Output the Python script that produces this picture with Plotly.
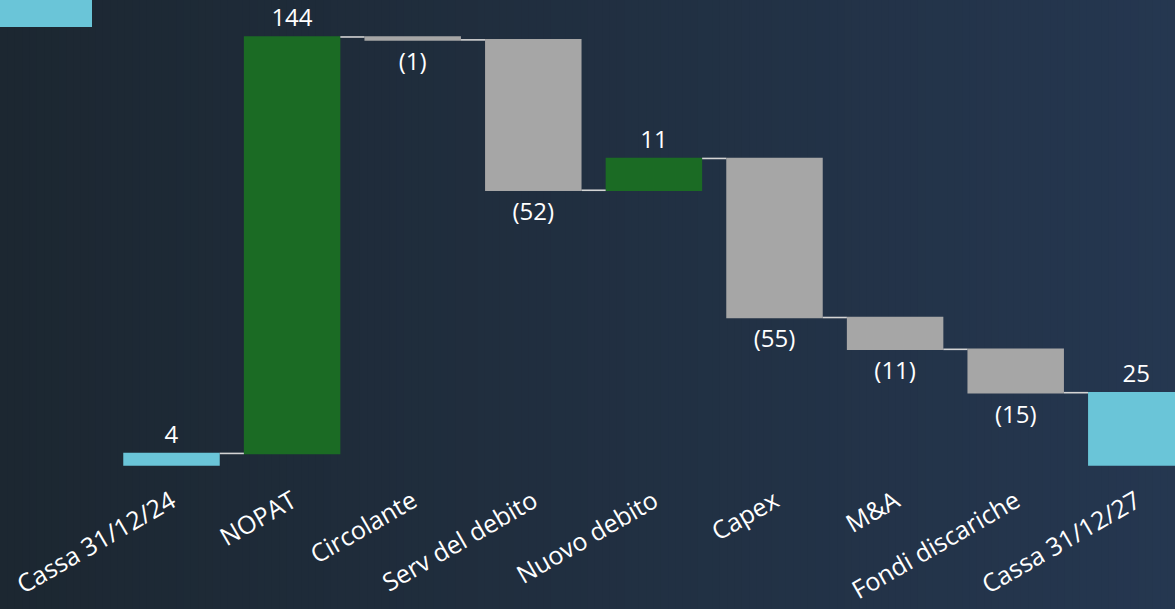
import plotly.graph_objects as go

categories = ["Cassa 31/12/24", "NOPAT", "Circolante", "Serv del debito",
              "Nuovo debito", "Capex", "M&A", "Fondi discariche", "Cassa 31/12/27"]
values = [4, 144, -1, -52, 11, -55, -11, -15, 25]
measures = ["absolute", "relative", "relative", "relative", "relative",
            "relative", "relative", "relative", "total"]

labels = [f"({abs(v)})" if v < 0 else str(v) for v in values]

W, H = 1175, 609
mb = 134
plot_h = H - mb
px_per_unit = 2.892
ymax = 465 / px_per_unit
ymin = ymax - plot_h / px_per_unit
step = 120.6
xmin = -171.5 / step
xmax = (W - 171.5) / step

fig = go.Figure()
fig.add_trace(go.Waterfall(
    x=categories, y=values, measure=measures,
    text=labels, textposition="outside", constraintext="none", cliponaxis=False,
    textfont=dict(color="white", size=24, family="Open Sans"),
    increasing=dict(marker=dict(color="#1b6b24")),
    decreasing=dict(marker=dict(color="#a6a6a6")),
    totals=dict(marker=dict(color="#6ac5d8")),
    connector=dict(mode="between", line=dict(color="#d4d4d4", width=1.6)),
    showlegend=False,
))

# horizontal gradient background
c0 = (28, 39, 49)
c1 = (37, 55, 80)
n = 160
shapes = []
for i in range(n):
    t = i / (n - 1)
    col = tuple(round(a + (b - a) * t) for a, b in zip(c0, c1))
    shapes.append(dict(type="rect", xref="paper", yref="paper", layer="below",
                       x0=i / n, x1=(i + 1) / n + 0.001, y0=-1, y1=1.01,
                       line=dict(width=0), fillcolor="rgb(%d,%d,%d)" % col))
shapes.append(dict(type="rect", xref="paper", yref="paper", layer="above",
                   x0=0, x1=92 / W, y0=1 - 27 / plot_h, y1=1,
                   line=dict(width=0), fillcolor="#6ac5d8"))

fig.update_layout(
    width=W, height=H,
    margin=dict(l=0, r=0, t=0, b=mb),
    paper_bgcolor="#1f2d3d", plot_bgcolor="rgba(0,0,0,0)",
    bargap=0.196,
    shapes=shapes,
    font=dict(family="Open Sans", color="white"),
    xaxis=dict(range=[xmin, xmax], showgrid=False, zeroline=False, showline=False,
               tickangle=-30, tickfont=dict(size=25, color="white"), ticks="",
               ticklabelstandoff=6),
    yaxis=dict(range=[ymin, ymax], visible=False, showgrid=False, zeroline=False),
)

fig.write_html("out.html", config={"displayModeBar": False},
               post_script="document.body.style.margin='0';document.body.style.overflow='hidden';")
